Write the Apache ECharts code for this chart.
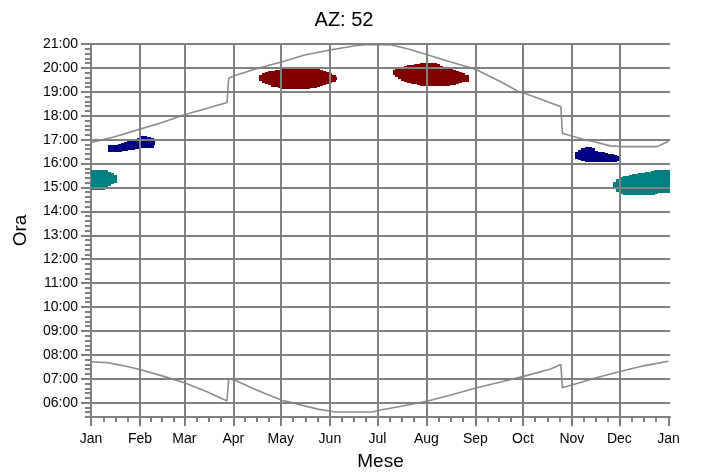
<!DOCTYPE html>
<html>
<head>
<meta charset="utf-8">
<script src="https://cdn.jsdelivr.net/npm/echarts@6/dist/echarts.min.js"></script>
<style>
  html, body { margin: 0; padding: 0; background: #fff; }
  #chart { width: 702px; height: 473px; }
</style>
</head>
<body>
<div id="chart"></div>
<script>
// Month names and the day of year each month starts on
const monthNames = ['Jan', 'Feb', 'Mar', 'Apr', 'May', 'Jun', 'Jul', 'Aug', 'Sep', 'Oct', 'Nov', 'Dec', 'Jan'];
const monthStarts = [0, 31, 59, 90, 120, 151, 181, 212, 243, 273, 304, 334, 365];

// Hour tick labels
const hourTicks = [6, 7, 8, 9, 10, 11, 12, 13, 14, 15, 16, 17, 18, 19, 20, 21];

// Sunset time through the year [day, hour]
const sunset = [
  [0, 16.88], [15, 17.12], [31, 17.44], [45, 17.72], [59, 18.04], [73, 18.30],
  [86, 18.55], [87, 19.57], [91, 19.68], [106, 20.00], [121, 20.26], [135, 20.54],
  [151, 20.75], [167, 20.93], [175, 20.98], [190, 20.96], [200, 20.80], [213, 20.54],
  [228, 20.24], [241, 19.99], [244, 19.91], [259, 19.42], [271, 18.98], [274, 18.94],
  [290, 18.55], [297, 18.38], [298, 17.27], [305, 17.13], [311, 17.02], [320, 16.88],
  [328, 16.74], [335, 16.71], [350, 16.71], [358, 16.71], [365, 16.93]
];

// Sunrise time through the year [day, hour]
const sunrise = [
  [0, 7.71], [11, 7.67], [20, 7.55], [31, 7.39], [45, 7.12], [59, 6.83], [73, 6.47],
  [86, 6.07], [87, 7.00], [91, 6.94], [105, 6.52], [121, 6.09], [127, 6.00],
  [144, 5.72], [151, 5.65], [154, 5.61], [178, 5.61], [182, 5.68], [197, 5.86],
  [213, 6.07], [228, 6.33], [244, 6.62], [259, 6.86], [274, 7.11], [290, 7.40],
  [297, 7.60], [298, 6.62], [305, 6.76], [320, 7.05], [335, 7.31], [350, 7.55], [365, 7.73]
];

// Exposure windows: [day, from hour, to hour], one column per two days
const tealWinter = [
  [0, 14.88, 15.75], [2, 14.88, 15.75], [4, 14.88, 15.74], [6, 14.90, 15.74],
  [8, 15.04, 15.72], [10, 15.08, 15.66], [12, 15.14, 15.60], [13.6, 15.20, 15.53],
  [330, 14.95, 15.22], [332, 14.80, 15.35], [334, 14.72, 15.42], [336, 14.68, 15.46],
  [338, 14.67, 15.50], [340, 14.67, 15.52], [342, 14.67, 15.55], [344, 14.67, 15.57],
  [346, 14.67, 15.59], [348, 14.67, 15.61], [350, 14.67, 15.63], [352, 14.68, 15.65],
  [354, 14.70, 15.68], [356, 14.74, 15.72], [358, 14.77, 15.74], [360, 14.77, 15.75],
  [362, 14.77, 15.75], [364, 14.77, 15.75]
];

const navyLate = [
  [11, 16.50, 16.76], [13, 16.50, 16.77], [15, 16.50, 16.79], [17, 16.50, 16.82],
  [19, 16.52, 16.86], [21, 16.54, 16.90], [23, 16.56, 16.94], [25, 16.58, 16.98],
  [27, 16.60, 17.02], [29, 16.62, 17.08], [31, 16.63, 17.14], [33, 16.63, 17.17],
  [35, 16.64, 17.13], [37, 16.66, 17.06], [38, 16.76, 16.95],
  [306, 16.19, 16.50], [308, 16.14, 16.57], [310, 16.10, 16.64], [312, 16.08, 16.69],
  [314, 16.07, 16.68], [316, 16.06, 16.63], [318, 16.06, 16.52], [320, 16.06, 16.49],
  [322, 16.06, 16.47], [324, 16.07, 16.45], [326, 16.07, 16.42], [328, 16.08, 16.38],
  [330, 16.08, 16.34], [332, 16.10, 16.30], [332.6, 16.14, 16.26]
];

const redSummer = [
  [106.5, 19.44, 19.70], [108, 19.38, 19.77], [110, 19.33, 19.82], [112, 19.27, 19.85],
  [114, 19.22, 19.88], [116, 19.19, 19.90], [118, 19.16, 19.92], [120, 19.13, 19.95],
  [122, 19.12, 19.97], [124, 19.11, 19.99], [126, 19.10, 20.02], [128, 19.10, 20.05],
  [130, 19.10, 20.05], [132, 19.10, 20.05], [134, 19.10, 20.05], [136, 19.11, 20.02],
  [138, 19.15, 19.99], [140, 19.18, 19.97], [142, 19.21, 19.96], [144, 19.24, 19.91],
  [146, 19.28, 19.87], [148, 19.31, 19.83], [150, 19.36, 19.78], [152, 19.42, 19.72],
  [153, 19.50, 19.64],
  [190.6, 19.72, 19.92], [192, 19.60, 19.98], [194, 19.52, 20.02], [196, 19.46, 20.05],
  [198, 19.42, 20.08], [200, 19.37, 20.11], [202, 19.34, 20.12], [204, 19.31, 20.15],
  [206, 19.28, 20.17], [208, 19.26, 20.19], [210, 19.24, 20.19], [212, 19.23, 20.19],
  [214, 19.23, 20.19], [216, 19.23, 20.19], [218, 19.23, 20.15], [220, 19.23, 20.10],
  [222, 19.24, 20.05], [224, 19.25, 20.01], [226, 19.27, 19.97], [228, 19.29, 19.93],
  [230, 19.33, 19.89], [232, 19.36, 19.84], [234, 19.40, 19.79], [236, 19.43, 19.70],
  [236.6, 19.50, 19.62]
];

const GRID = '#808080';
const FONT = 'Liberation Sans, Arial, sans-serif';
const COLUMN_DAYS = 2;

// Minor ticks: each month split into four
const monthQuarterTicks = [];
for (let m = 0; m < 12; m++) {
  const a = monthStarts[m], b = monthStarts[m + 1];
  for (let k = 1; k < 4; k++) monthQuarterTicks.push(a + (b - a) * k / 4);
}
// Minor hour ticks every 12 minutes
const minuteTicks = [];
for (let i = 27; i <= 105; i++) minuteTicks.push(i / 5);

function pad(n) { return (n < 10 ? '0' : '') + n; }

// Each window column is a pixel-snapped rectangle so neighbours join seamlessly
function windowSeries(name, color, data) {
  return {
    name, type: 'custom', z: 2, silent: true, clip: true,
    xAxisIndex: 0, yAxisIndex: 0,
    data,
    renderItem(params, api) {
      const top = api.coord([api.value(0), api.value(2)]);
      const bottom = api.coord([api.value(0), api.value(1)]);
      const right = api.coord([api.value(0) + COLUMN_DAYS, api.value(1)]);
      const x0 = Math.round(top[0]);
      const x1 = Math.round(right[0]) + 1;
      const y0 = Math.round(top[1]);
      const y1 = Math.round(bottom[1]);
      return {
        type: 'rect',
        shape: { x: x0, y: y0, width: x1 - x0, height: y1 - y0 },
        style: { fill: color, stroke: null, lineWidth: 0 }
      };
    }
  };
}

const chart = echarts.init(document.getElementById('chart'), null, { renderer: 'canvas' });
chart.setOption({
  animation: false,
  backgroundColor: '#fff',
  title: {
    text: 'AZ: 52', left: 339, top: 5, textAlign: 'center',
    textStyle: { fontFamily: FONT, fontSize: 20, fontWeight: 'normal', color: '#000' }
  },
  grid: { left: 91, right: 32, top: 44, bottom: 56, containLabel: false, outerBoundsMode: 'none' },
  xAxis: [
    {
      type: 'value', min: 0, max: 366, position: 'bottom',
      name: 'Mese', nameLocation: 'middle', nameGap: 35,
      nameTextStyle: { fontFamily: FONT, fontSize: 19, color: '#000' },
      axisLine: { show: true, lineStyle: { color: GRID, width: 2 } },
      axisTick: { show: true, customValues: monthQuarterTicks, length: 5, lineStyle: { color: GRID, width: 2 } },
      axisLabel: { show: false },
      splitLine: { show: false }
    },
    {
      type: 'value', min: 0, max: 366, position: 'bottom', offset: 0,
      axisLine: { show: false },
      axisTick: { show: true, customValues: monthStarts, length: 9, lineStyle: { color: GRID, width: 2 } },
      axisLabel: {
        show: true, customValues: monthStarts, margin: 15,
        fontFamily: FONT, fontSize: 14, color: '#000',
        formatter: v => monthNames[monthStarts.indexOf(Math.round(v))] || ''
      },
      splitLine: { show: false }
    }
  ],
  yAxis: [
    {
      type: 'value', min: 5.4, max: 21, position: 'left',
      name: 'Ora', nameLocation: 'middle', nameGap: 61, nameRotate: 90,
      nameTextStyle: { fontFamily: FONT, fontSize: 19, color: '#000' },
      axisLine: { show: true, lineStyle: { color: GRID, width: 2 } },
      axisTick: { show: true, customValues: minuteTicks, length: 6, lineStyle: { color: GRID, width: 2 } },
      axisLabel: { show: false },
      splitLine: { show: false }
    },
    {
      type: 'value', min: 5.4, max: 21, position: 'left', offset: 0,
      axisLine: { show: false },
      axisTick: { show: true, customValues: hourTicks, length: 10, lineStyle: { color: GRID, width: 2 } },
      axisLabel: {
        show: true, customValues: hourTicks, margin: 13,
        fontFamily: FONT, fontSize: 14, color: '#000',
        formatter: v => pad(Math.round(v)) + ':00'
      },
      splitLine: { show: false }
    }
  ],
  series: [
    windowSeries('teal', '#008080', tealWinter),
    windowSeries('navy', '#000080', navyLate),
    windowSeries('red', '#800000', redSummer),
    {
      name: 'grid', type: 'line', z: 3, data: [], silent: true,
      xAxisIndex: 0, yAxisIndex: 0,
      markLine: {
        silent: true, symbol: 'none', animation: false,
        label: { show: false },
        lineStyle: { color: GRID, width: 2, type: 'solid' },
        emphasis: { disabled: true },
        data: [
          ...hourTicks.map(h => ({ yAxis: h })),
          ...monthStarts.slice(1, 12).map(d => ({ xAxis: d }))
        ]
      }
    },
    {
      name: 'sunset', type: 'line', z: 4, data: sunset, showSymbol: false, silent: true,
      lineStyle: { color: '#8c8c8c', width: 1.6 }
    },
    {
      name: 'sunrise', type: 'line', z: 4, data: sunrise, showSymbol: false, silent: true,
      lineStyle: { color: '#8c8c8c', width: 1.6 }
    }
  ]
});
</script>
</body>
</html>
